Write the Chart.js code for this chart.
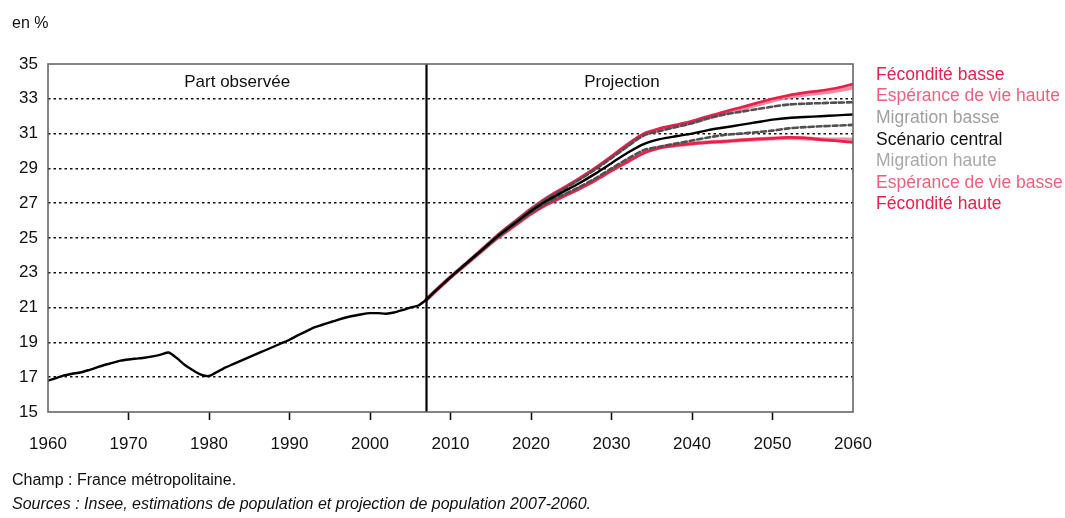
<!DOCTYPE html>
<html>
<head>
<meta charset="utf-8">
<script src="https://cdn.jsdelivr.net/npm/chart.js@4/dist/chart.umd.min.js"></script>
<style>
html,body{margin:0;padding:0;background:#fff;}
canvas{display:block;}
</style>
</head>
<body>
<canvas id="c" width="1065" height="518"></canvas>
<script>
// ---- Data ----
const yearsObs = [1960,1961,1962,1963,1964,1965,1966,1967,1968,1969,1970,1971,1972,1973,1974,1975,1976,1977,1978,1979,1980,1981,1982,1983,1984,1985,1986,1987,1988,1989,1990,1991,1992,1993,1994,1995,1996,1997,1998,1999,2000,2001,2002,2003,2004,2005,2006,2007];
const observed = [16.8,16.95,17.1,17.2,17.27,17.4,17.55,17.7,17.82,17.95,18.02,18.07,18.12,18.2,18.3,18.42,18.1,17.7,17.4,17.15,17.07,17.3,17.55,17.75,17.95,18.15,18.35,18.55,18.75,18.95,19.15,19.4,19.62,19.85,20.0,20.15,20.3,20.43,20.53,20.62,20.68,20.68,20.65,20.72,20.85,21.0,21.12,21.45];

const yearsProj = [2007,2008,2010,2012,2014,2016,2018,2020,2022,2024,2026,2028,2030,2032,2034,2036,2038,2040,2042,2044,2046,2048,2050,2052,2054,2056,2058,2060];
const feconditeBasse = [21.45,21.9,22.75,23.55,24.38,25.22,25.95,26.67,27.32,27.87,28.42,29.03,29.7,30.4,31.0,31.3,31.5,31.72,32.0,32.25,32.5,32.75,33.0,33.2,33.35,33.47,33.62,33.85];
const esperanceHaute = [21.45,21.9,22.75,23.55,24.37,25.2,25.93,26.65,27.3,27.85,28.4,29.0,29.65,30.33,30.92,31.22,31.42,31.63,31.9,32.15,32.4,32.65,32.9,33.1,33.25,33.35,33.48,33.65];
const migrationBasse = [21.45,21.9,22.76,23.57,24.38,25.2,25.93,26.63,27.27,27.8,28.35,28.95,29.6,30.27,30.9,31.15,31.38,31.6,31.88,32.1,32.25,32.4,32.55,32.67,32.72,32.75,32.78,32.8];
const central = [21.45,21.9,22.75,23.55,24.35,25.15,25.85,26.55,27.15,27.65,28.15,28.7,29.3,29.9,30.4,30.68,30.85,31.0,31.2,31.35,31.5,31.65,31.8,31.9,31.95,32.0,32.05,32.1];
const migrationHaute = [21.45,21.9,22.74,23.53,24.32,25.1,25.77,26.45,27.02,27.48,27.93,28.43,29.0,29.55,30.05,30.25,30.43,30.6,30.78,30.92,31.0,31.08,31.17,31.3,31.37,31.42,31.46,31.5];
const esperanceBasse = [21.45,21.9,22.74,23.52,24.3,25.07,25.73,26.4,26.95,27.4,27.85,28.33,28.88,29.4,29.9,30.2,30.33,30.42,30.5,30.55,30.62,30.68,30.72,30.75,30.72,30.68,30.66,30.65];
const feconditeHaute = [21.45,21.9,22.74,23.52,24.3,25.06,25.72,26.38,26.93,27.38,27.83,28.32,28.87,29.38,29.88,30.18,30.32,30.42,30.5,30.55,30.62,30.68,30.73,30.78,30.75,30.65,30.58,30.5];

const legendLabels = ["Fécondité basse","Espérance de vie haute","Migration basse","Scénario central","Migration haute","Espérance de vie basse","Fécondité haute"];
const xTickValues = [1960,1970,1980,1990,2000,2010,2020,2030,2040,2050,2060];
const yTickValues = [15,17,19,21,23,25,27,29,31,33,35];
const splitYear = 2007;

// ---- Styles ----
const RED = '#e8204c';
const PINK = 'rgba(240,100,125,0.75)';
const DASH = '#505050';
const legendColors = ['#e8204c','#f0607c','#a0a0a0','#111111','#a8a8a8','#f0607c','#e8204c'];
const FONT = "'Liberation Sans', Arial, sans-serif";

function pts(xs, ys){ return xs.map((x,i)=>({x:x, y:ys[i]})); }

const base = {pointRadius:0, fill:false, tension:0.3, borderCapStyle:'round', borderJoinStyle:'round'};
const datasets = [
  Object.assign({label:legendLabels[0], data:pts(yearsProj,feconditeBasse), borderColor:RED, borderWidth:2.7, order:2}, base),
  Object.assign({label:legendLabels[1], data:pts(yearsProj,esperanceHaute), borderColor:PINK, borderWidth:4, order:3}, base),
  Object.assign({label:legendLabels[2], data:pts(yearsProj,migrationBasse), borderColor:DASH, borderWidth:2.6, borderDash:[5,3], order:1}, base),
  Object.assign({label:legendLabels[3], data:pts(yearsProj,central), borderColor:'#000', borderWidth:2.4, order:0}, base),
  Object.assign({label:legendLabels[4], data:pts(yearsProj,migrationHaute), borderColor:DASH, borderWidth:2.6, borderDash:[5,3], order:1}, base),
  Object.assign({label:legendLabels[5], data:pts(yearsProj,esperanceBasse), borderColor:PINK, borderWidth:4, order:3}, base),
  Object.assign({label:legendLabels[6], data:pts(yearsProj,feconditeHaute), borderColor:RED, borderWidth:2.7, order:2}, base),
  Object.assign({label:'Observé', data:pts(yearsObs,observed), borderColor:'#000', borderWidth:2.4, order:0}, base, {tension:0.2})
];

const decor = {
  id:'decor',
  afterDatasetsDraw(chart){
    const ctx = chart.ctx, a = chart.chartArea, xs = chart.scales.x;
    ctx.save();
    const xv = Math.round(xs.getPixelForValue(splitYear)) + 0.5;
    ctx.strokeStyle = '#000'; ctx.lineWidth = 2.2;
    ctx.beginPath(); ctx.moveTo(xv, a.top); ctx.lineTo(xv, a.bottom); ctx.stroke();
    ctx.strokeStyle = '#666'; ctx.lineWidth = 1.6;
    ctx.strokeRect(a.left, a.top, a.right - a.left, a.bottom - a.top);
    ctx.restore();
  },
  afterDraw(chart){
    const ctx = chart.ctx, a = chart.chartArea, xs = chart.scales.x;
    ctx.save();
    ctx.textBaseline = 'middle';
    ctx.fillStyle = '#111';
    ctx.font = "16px " + FONT;
    ctx.textAlign = 'left';
    ctx.fillText('en %', 12, 24);
    ctx.font = "17px " + FONT;
    ctx.textAlign = 'center';
    ctx.fillText('Part observée', xs.getPixelForValue(1983.5), a.top + 18);
    ctx.fillText('Projection', xs.getPixelForValue(2031.3), a.top + 18);
    ctx.textAlign = 'left';
    ctx.font = "17.5px " + FONT;
    legendLabels.forEach((t,i)=>{
      ctx.fillStyle = legendColors[i];
      ctx.fillText(t, 876, 75 + i*21.6);
    });
    ctx.fillStyle = '#111';
    ctx.font = "16px " + FONT;
    ctx.fillText('Champ : France métropolitaine.', 12, 481);
    ctx.font = "italic 16px " + FONT;
    ctx.fillText('Sources : Insee, estimations de population et projection de population 2007-2060.', 12, 505);
    ctx.restore();
  }
};

new Chart(document.getElementById('c'), {
  type:'line',
  data:{datasets},
  options:{
    responsive:false,
    animation:false,
    layout:{padding:{top:64, right:212, bottom:0, left:0}},
    plugins:{legend:{display:false}, tooltip:{enabled:false}},
    scales:{
      x:{
        type:'linear', min:1960, max:2060,
        afterFit(s){ s.height = 106; },
        afterBuildTicks(s){ s.ticks = xTickValues.map(v=>({value:v})); },
        border:{display:false},
        grid:{drawOnChartArea:false, drawTicks:true, tickLength:8, tickWidth:1.6,
              tickColor:(c)=> (c.tick && (c.tick.value===1960 || c.tick.value===2060)) ? 'rgba(0,0,0,0)' : '#111'},
        ticks:{padding:14, color:'#111', font:{family:FONT, size:17}, maxRotation:0, autoSkip:false, callback:(v)=>String(v)}
      },
      y:{
        min:15, max:35,
        afterFit(s){ s.width = 48; },
        afterBuildTicks(s){ s.ticks = yTickValues.map(v=>({value:v})); },
        border:{display:false, dash:[2.5,3]},
        grid:{drawTicks:false, lineWidth:1.6,
              color:(c)=> (c.tick && (c.tick.value===15 || c.tick.value===35)) ? 'rgba(0,0,0,0)' : '#111'},
        ticks:{padding:10, color:'#111', font:{family:FONT, size:17}, autoSkip:false, callback:(v)=>String(v)}
      }
    }
  },
  plugins:[decor]
});
</script>
</body>
</html>
